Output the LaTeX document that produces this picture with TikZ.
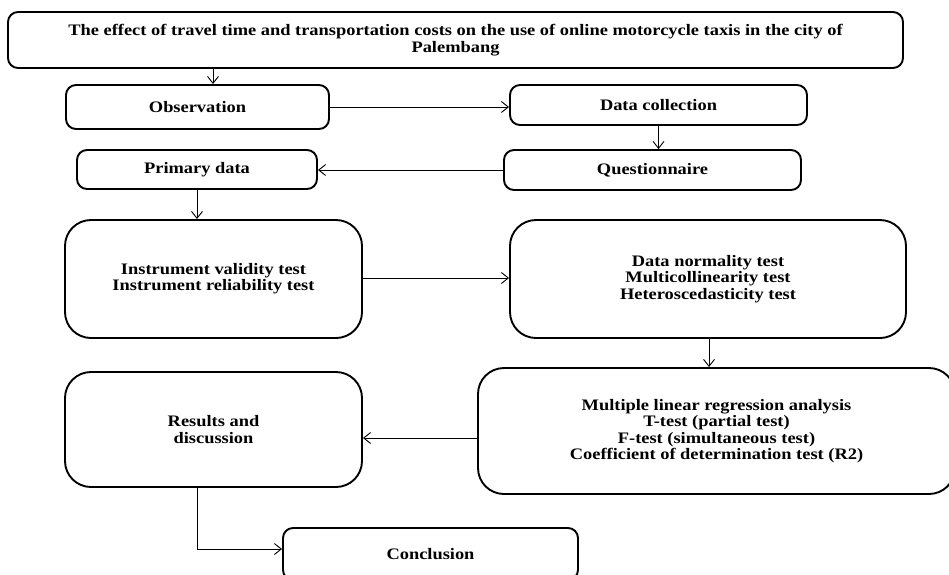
\documentclass[tikz,border=0pt]{standalone}
\usepackage{fontspec}
\setmainfont{Liberation Serif}[FakeStretch=1.15]
\usetikzlibrary{arrows.meta}
\begin{document}
\begin{tikzpicture}[x=1pt,y=-1pt,
  box/.style={draw, line width=1.9pt, rounded corners=10pt, align=center,
    font=\fontsize{16}{16.3}\selectfont\bfseries, inner sep=0pt},
  bigbox/.style={box, rounded corners=26pt},
  arr/.style={-{Straight Barb[length=7pt,width=11pt]}, line width=0.9pt}]
\useasboundingbox (0,0) rectangle (949,574);
\clip (0,0) rectangle (949,574);
\node[box, minimum width=895pt, minimum height=56pt] (top) at (455.5,40)
  {The effect of travel time and transportation costs on the use of online motorcycle taxis in the city of\\Palembang};
\node[box, minimum width=263pt, minimum height=44pt] (obs) at (197.5,107) {Observation};
\node[box, minimum width=297pt, minimum height=40pt] (dc) at (658.5,105) {Data collection};
\node[box, minimum width=297pt, minimum height=40pt] (q) at (652.5,170) {Questionnaire};
\node[box, minimum width=240pt, minimum height=39pt] (pd) at (197,169.5) {Primary data};
\node[bigbox, minimum width=297pt, minimum height=118pt] (inst) at (213.5,279)
  {Instrument validity test\\Instrument reliability test};
\node[bigbox, minimum width=396pt, minimum height=118pt] (norm) at (708,279)
  {Data normality test\\Multicollinearity test\\Heteroscedasticity test};
\node[bigbox, minimum width=477pt, minimum height=126pt] (mlr) at (716.5,431)
  {Multiple linear regression analysis\\T-test (partial test)\\F-test (simultaneous test)\\Coefficient of determination test (R2)};
\node[bigbox, minimum width=297pt, minimum height=115pt] (res) at (213.5,429.5)
  {Results and\\discussion};
\node[box, minimum width=295pt, minimum height=52pt] (conc) at (430.5,554) {Conclusion};
\draw[arr] ([xshift=15.5pt]obs.north |- top.south) -- ([xshift=15.5pt]obs.north);
\draw[arr] (obs.east) -- (obs.east -| dc.west);
\draw[arr] (dc.south) -- (dc.south |- q.north);
\draw[arr] (q.west) -- (q.west -| pd.east);
\draw[arr] (pd.south) -- (pd.south |- inst.north);
\draw[arr] ([yshift=1pt]inst.east) -- ([yshift=1pt]inst.east -| norm.west);
\draw[arr] ([xshift=1pt]norm.south) -- ([xshift=1pt]norm.south |- mlr.north);
\draw[arr] ([yshift=-7pt]mlr.west) -- ([yshift=-7pt]mlr.west -| res.east);
\draw[arr] ([xshift=-16.5pt]res.south) |- ([yshift=5pt]conc.west);
\end{tikzpicture}
\end{document}
